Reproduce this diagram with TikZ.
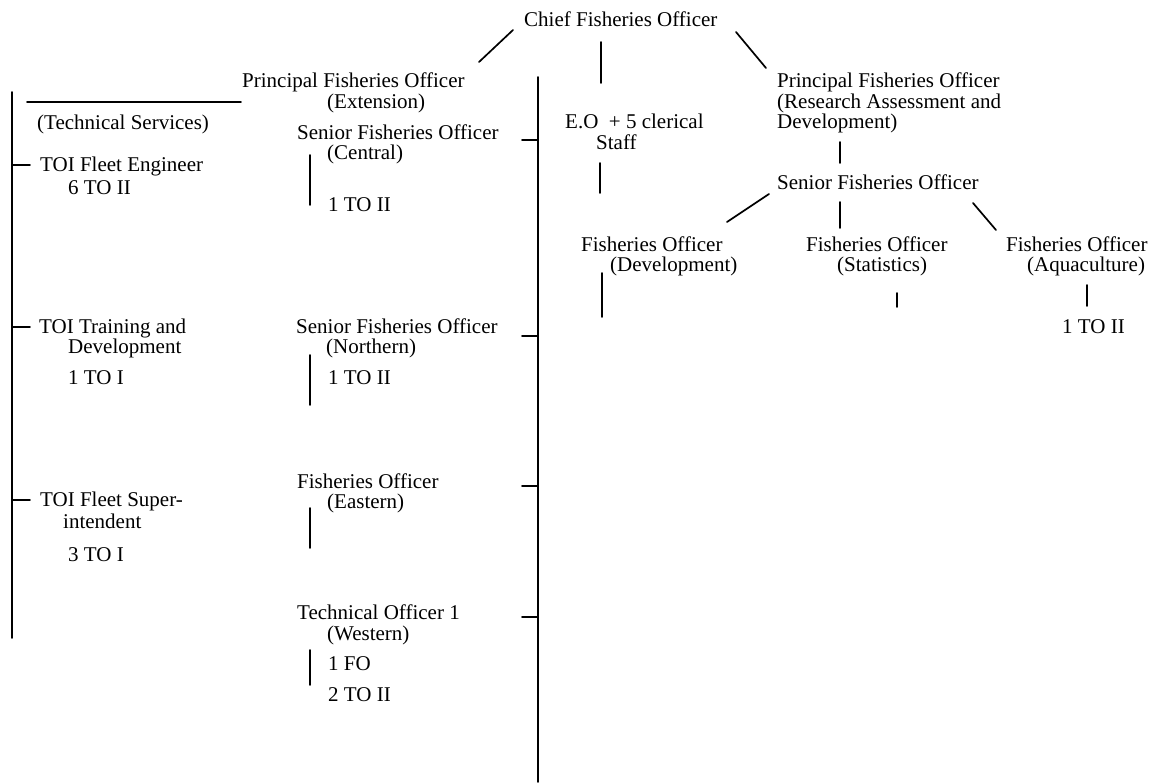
\documentclass[tikz,border=0pt]{standalone}
\usepackage{fontspec}
\setmainfont{Liberation Serif}
\begin{document}
\begin{tikzpicture}[x=1pt,y=-1pt,
  lbl/.style={anchor=base west, inner sep=0pt, font=\fontsize{21}{25}\selectfont},
  ln/.style={line width=1.7pt, line cap=round}]
\useasboundingbox (0,0) rectangle (1162,782);
% ---- text nodes (baseline = centre + 6)
\node[lbl] (chief) at (524,26) {Chief Fisheries Officer};
\node[lbl] (pe1) at (242,87) {Principal Fisheries Officer};
\node[lbl] (pe2) at (327,108) {(Extension)};
\node[lbl] (ts) at (37,129) {(Technical Services)};
\node[lbl] (fe1) at (40,171) {TOI Fleet Engineer};
\node[lbl] (fe2) at (68,194) {6 TO II};
\node[lbl] (tr1) at (39,333) {TOI Training and};
\node[lbl] (tr2) at (68,353) {Development};
\node[lbl] (tr3) at (68,384) {1 TO I};
\node[lbl] (fs1) at (40,506) {TOI Fleet Super-};
\node[lbl] (fs2) at (63,528) {intendent};
\node[lbl] (fs3) at (68,561) {3 TO I};
\node[lbl] (sc1) at (297,139) {Senior Fisheries Officer};
\node[lbl] (sc2) at (327,159) {(Central)};
\node[lbl] (sc3) at (328,211) {1 TO II};
\node[lbl] (sn1) at (296,333) {Senior Fisheries Officer};
\node[lbl] (sn2) at (326,353) {(Northern)};
\node[lbl] (sn3) at (328,384) {1 TO II};
\node[lbl] (fea) at (297,488) {Fisheries Officer};
\node[lbl] (feb) at (327,508) {(Eastern)};
\node[lbl] (tw1) at (297,619) {Technical Officer 1};
\node[lbl] (tw2) at (327,640) {(Western)};
\node[lbl] (tw3) at (328,670) {1 FO};
\node[lbl] (tw4) at (328,701) {2 TO II};
\node[lbl] (eo1) at (565,128) {E.O\ \ + 5 clerical};
\node[lbl] (eo2) at (596,149) {Staff};
\node[lbl] (pr1) at (777,87) {Principal Fisheries Officer};
\node[lbl] (pr2) at (777,108) {(Research Assessment and};
\node[lbl] (pr3) at (777,128) {Development)};
\node[lbl] (sr) at (777,189) {Senior Fisheries Officer};
\node[lbl] (fd1) at (581,251) {Fisheries Officer};
\node[lbl] (fd2) at (610,271) {(Development)};
\node[lbl] (fst1) at (806,251) {Fisheries Officer};
\node[lbl] (fst2) at (837,271) {(Statistics)};
\node[lbl] (fa1) at (1006,251) {Fisheries Officer};
\node[lbl] (fa2) at (1027,271) {(Aquaculture)};
\node[lbl] (fa3) at (1062,333) {1 TO II};
% ---- connector end points
\coordinate (lvT) at (12,92);   \coordinate (lvB) at (12,638);
\coordinate (lt1) at (30,165);  \coordinate (lv1) at (12,165);
\coordinate (lt2) at (30,327);  \coordinate (lv2) at (12,327);
\coordinate (lt3) at (30,500);  \coordinate (lv3) at (12,500);
\coordinate (hzL) at (27,102);  \coordinate (hzR) at (241,102);
\coordinate (mvT) at (538,77);  \coordinate (mvB) at (538,782);
\coordinate (mt1) at (522,140); \coordinate (mv1) at (538,140);
\coordinate (mt2) at (522,336); \coordinate (mv2) at (538,336);
\coordinate (mt3) at (522,486); \coordinate (mv3) at (538,486);
\coordinate (mt4) at (522,617); \coordinate (mv4) at (538,617);
\coordinate (cvT) at (310,155); \coordinate (cvB) at (310,205);
\coordinate (nvT) at (310,355); \coordinate (nvB) at (310,405);
\coordinate (evT) at (310,508); \coordinate (evB) at (310,548);
\coordinate (wvT) at (310,650); \coordinate (wvB) at (310,685);
\coordinate (cdLa) at (513,30); \coordinate (cdLb) at (479,62);
\coordinate (cvA) at (601,42);  \coordinate (cvZ) at (601,83);
\coordinate (cdRa) at (736,32); \coordinate (cdRb) at (766,68);
\coordinate (eoT) at (600,163); \coordinate (eoB) at (600,193);
\coordinate (prT) at (840,142); \coordinate (prB) at (840,163);
\coordinate (sdLa) at (769,194); \coordinate (sdLb) at (727,222);
\coordinate (svT) at (840,202); \coordinate (svB) at (840,228);
\coordinate (sdRa) at (973,203); \coordinate (sdRb) at (996,230);
\coordinate (dvT) at (602,273); \coordinate (dvB) at (602,317);
\coordinate (stT) at (897,293); \coordinate (stB) at (897,307);
\coordinate (aqT) at (1087,285); \coordinate (aqB) at (1087,306);
% ---- connectors
\draw[ln] (lvT) -- (lvB);
\draw[ln] (lv1) -- (lt1);
\draw[ln] (lv2) -- (lt2);
\draw[ln] (lv3) -- (lt3);
\draw[ln] (hzL) -- (hzR);
\draw[ln] (mvT) -- (mvB);
\draw[ln] (mt1) -- (mv1);
\draw[ln] (mt2) -- (mv2);
\draw[ln] (mt3) -- (mv3);
\draw[ln] (mt4) -- (mv4);
\draw[ln] (cvT) -- (cvB);
\draw[ln] (nvT) -- (nvB);
\draw[ln] (evT) -- (evB);
\draw[ln] (wvT) -- (wvB);
\draw[ln] (cdLa) -- (cdLb);
\draw[ln] (cvA) -- (cvZ);
\draw[ln] (cdRa) -- (cdRb);
\draw[ln] (eoT) -- (eoB);
\draw[ln] (prT) -- (prB);
\draw[ln] (sdLa) -- (sdLb);
\draw[ln] (svT) -- (svB);
\draw[ln] (sdRa) -- (sdRb);
\draw[ln] (dvT) -- (dvB);
\draw[ln] (stT) -- (stB);
\draw[ln] (aqT) -- (aqB);
\end{tikzpicture}
\end{document}
